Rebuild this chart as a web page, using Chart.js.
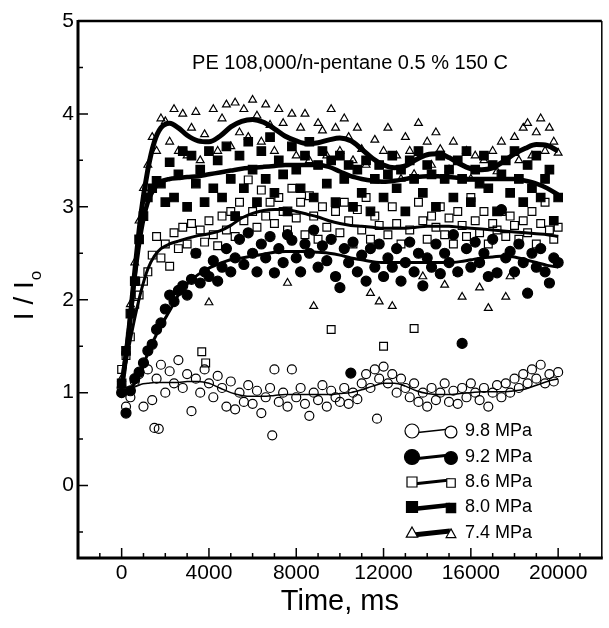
<!DOCTYPE html>
<html>
<head>
<meta charset="utf-8">
<script src="https://cdn.jsdelivr.net/npm/chart.js@4.4.0/dist/chart.umd.min.js"></script>
<style>
  html, body { margin: 0; padding: 0; background: #fff; }
  #wrap { width: 609px; height: 628px; }
</style>
</head>
<body>
<div id="wrap"><canvas id="chart" width="609" height="628"></canvas></div>
<script>
const FONT = '"Liberation Sans", Arial, Helvetica, sans-serif';

// tick labels
const xTicks = [0, 4000, 8000, 12000, 16000, 20000];
const yTicks = [0, 1, 2, 3, 4, 5];

// measured sampling times, ms
const times = [
  0,200,400,600,800,1000,1200,1400,1600,1800,
  2000,2200,2400,2600,2800,3000,3200,3400,3600,3800,
  4000,4200,4400,4600,4800,5000,5200,5400,5600,5800,
  6000,6200,6400,6600,6800,7000,7200,7400,7600,7800,
  8000,8200,8400,8600,8800,9000,9200,9400,9600,9800,
  10000,10200,10400,10600,10800,11000,11200,11400,11600,11800,
  12000,12200,12400,12600,12800,13000,13200,13400,13600,13800,
  14000,14200,14400,14600,14800,15000,15200,15400,15600,15800,
  16000,16200,16400,16600,16800,17000,17200,17400,17600,17800,
  18000,18200,18400,18600,18800,19000,19200,19400,19600,19800,
  20000
];

// I/I0 readings per pressure
const p74 = [
  1.15,1.45,1.95,2.4,2.85,3.2,3.45,3.75,3.6,3.95,
  3.92,3.7,4.05,3.6,4.0,3.55,3.85,4.02,3.5,3.78,
  1.97,4.05,3.6,3.95,4.1,3.65,4.12,3.8,4.05,3.75,
  4.15,3.98,3.7,4.1,3.88,3.6,4.05,3.9,2.18,4.0,
  3.55,3.85,4.0,3.5,1.93,3.9,3.82,3.55,4.05,3.85,
  3.6,3.95,3.75,3.5,3.85,3.62,3.45,2.07,3.72,1.98,
  3.6,3.85,1.93,3.55,3.3,3.75,3.6,3.35,3.9,2.25,
  3.7,3.45,3.8,3.62,2.16,3.4,3.7,2.29,2.03,3.6,
  3.3,3.55,2.13,3.5,1.91,3.6,3.38,3.7,2.03,2.25,
  3.75,3.5,3.85,3.9,3.55,3.8,3.95,3.6,3.85,3.7,
  3.58
];
const p80 = [
  1.1,1.45,1.85,2.2,2.65,2.9,3.1,3.2,3.28,3.25,
  3.05,3.48,3.1,3.35,3.6,3.0,3.55,3.25,3.4,3.05,
  3.6,3.2,3.5,3.1,3.65,3.3,2.9,3.55,3.2,3.7,
  3.4,3.05,3.6,3.3,3.75,3.15,3.5,3.35,2.95,3.65,
  3.4,3.2,3.55,3.7,3.1,3.45,3.6,3.25,3.5,3.05,
  3.55,3.3,3.45,3.0,3.4,3.15,3.5,2.95,3.3,3.45,
  3.1,3.35,3.55,3.2,3.4,2.95,3.5,3.3,3.6,3.15,
  3.45,3.35,3.0,3.55,3.3,3.4,3.1,3.5,3.3,3.6,
  3.05,3.4,3.25,3.55,3.2,3.45,2.95,3.35,3.5,3.15,
  3.6,3.3,3.05,3.45,3.2,3.55,3.1,3.3,3.4,2.85,
  3.1
];
const p86 = [
  1.25,1.4,1.6,1.95,2.05,2.2,2.3,2.48,2.68,2.45,
  2.6,2.36,2.72,2.55,2.78,2.6,2.82,2.5,2.75,2.62,
  2.85,2.7,2.58,2.9,2.75,2.95,2.68,3.05,2.85,3.29,
  2.95,2.78,3.18,2.9,3.05,2.82,3.1,2.95,2.75,3.2,
  2.88,3.05,2.7,3.12,2.9,2.65,3.0,2.78,1.68,2.95,
  2.72,3.05,2.85,2.6,2.97,2.75,3.1,2.65,2.9,2.8,
  1.5,2.7,3.0,2.82,2.6,2.95,2.75,1.69,3.05,2.85,
  2.65,2.9,2.78,3.0,2.7,2.88,2.6,2.95,2.8,2.68,
  3.1,2.85,2.72,2.95,2.6,2.82,2.75,2.95,2.68,2.9,
  2.8,2.65,2.85,2.72,2.95,2.6,2.82,3.05,2.75,2.65,
  2.78
];
const p92 = [
  1.0,0.78,1.02,1.15,1.22,1.32,1.45,1.52,1.68,1.75,
  1.9,2.05,1.98,2.1,2.15,2.05,2.22,2.5,2.18,2.3,
  2.25,2.42,2.2,2.35,2.55,2.3,2.45,2.65,2.38,2.72,
  2.5,2.3,2.6,2.45,2.68,2.29,2.55,2.4,2.7,2.64,
  2.45,2.3,2.6,2.5,2.75,2.35,2.58,2.42,2.65,2.25,
  2.13,2.55,2.4,2.62,2.3,2.48,2.2,2.55,2.35,2.6,
  2.25,2.45,2.35,2.55,2.2,2.4,2.62,2.3,2.5,2.15,
  2.45,2.35,2.6,2.28,2.5,2.4,2.7,2.3,1.53,2.55,
  2.35,2.62,2.4,2.5,2.25,2.65,2.29,2.97,2.45,2.52,
  2.3,2.6,2.4,2.07,2.5,2.35,2.55,2.3,2.18,2.45,
  2.4
];
const p98 = [
  1.05,0.85,0.95,1.12,1.2,0.85,1.25,0.92,1.15,1.3,
  1.0,1.23,1.1,1.35,1.05,1.2,0.8,1.15,1.0,1.25,
  1.1,0.95,1.18,1.05,0.85,1.12,0.82,1.0,0.9,1.08,
  0.88,1.02,0.78,0.95,1.05,1.25,0.9,1.0,0.85,1.25,
  0.95,1.05,0.88,0.75,1.0,0.92,1.08,0.85,1.02,0.95,
  0.9,1.05,0.88,1.0,0.93,1.1,1.2,1.05,1.25,1.15,
  1.28,1.1,1.2,1.0,1.15,1.05,0.95,1.1,0.9,1.0,
  0.85,1.05,0.92,1.0,1.1,0.9,1.02,0.88,1.05,0.95,
  1.1,1.0,0.92,1.05,0.85,1.0,1.08,0.95,1.1,1.0,
  1.15,1.05,1.2,1.1,1.25,1.15,1.3,1.1,1.2,1.12,
  1.22
];

// stray readings off the regular grid [time, I/I0]
const extra98 = [[1500,0.62],[1700,0.61],[6900,0.54],[11700,0.72]];
const extra92 = [[10500,1.21]];
const extra86 = [[3670,1.44],[3850,1.32]];

// smoothed fits
const fitTimes = [0,300,600,900,1200,1500,1800,2200,2600,3000,
  3500,4000,4500,5000,5500,6000,6500,7000,7500,8000,
  8500,9000,9500,10000,10500,11000,11500,12000,12500,13000,
  13500,14000,14500,15000,15500,16000,16500,17000,17500,18000,
  18500,19000,19500,20000];
const fit74 = [1.05,1.6,2.3,2.95,3.4,3.7,3.85,3.9,3.85,3.77,
  3.71,3.7,3.76,3.86,3.92,3.94,3.91,3.84,3.76,3.71,
  3.68,3.69,3.72,3.74,3.71,3.62,3.52,3.45,3.42,3.44,
  3.51,3.56,3.57,3.53,3.46,3.41,3.4,3.42,3.49,3.57,
  3.63,3.67,3.66,3.6];
const fit80 = [1.05,1.6,2.25,2.75,3.05,3.2,3.27,3.3,3.31,3.32,
  3.33,3.35,3.37,3.39,3.41,3.42,3.43,3.44,3.45,3.45,
  3.45,3.45,3.43,3.38,3.33,3.3,3.28,3.27,3.28,3.3,
  3.32,3.33,3.33,3.32,3.31,3.3,3.3,3.3,3.3,3.3,
  3.28,3.25,3.2,3.13];
const fit86 = [1.1,1.45,1.8,2.1,2.33,2.47,2.55,2.6,2.63,2.66,
  2.69,2.71,2.74,2.8,2.88,2.93,2.96,2.97,2.97,2.95,
  2.92,2.89,2.85,2.82,2.8,2.79,2.78,2.77,2.77,2.77,
  2.78,2.79,2.79,2.79,2.78,2.77,2.76,2.75,2.74,2.73,
  2.72,2.71,2.7,2.68];
const fit92 = [1.0,1.02,1.1,1.25,1.42,1.58,1.72,1.88,2.05,2.17,
  2.27,2.34,2.39,2.43,2.45,2.47,2.49,2.51,2.52,2.52,
  2.52,2.51,2.5,2.48,2.45,2.43,2.41,2.4,2.4,2.4,
  2.4,2.4,2.4,2.4,2.41,2.43,2.45,2.46,2.47,2.46,
  2.43,2.4,2.37,2.35];
const fit98 = [1.0,1.03,1.06,1.09,1.1,1.11,1.11,1.11,1.11,1.12,
  1.12,1.1,1.05,1.0,0.97,0.96,0.96,0.97,0.98,0.98,
  0.98,0.98,0.98,0.99,1.0,1.03,1.07,1.1,1.1,1.07,
  1.02,0.99,0.98,0.98,0.99,1.0,1.01,1.01,1.01,1.02,
  1.04,1.08,1.12,1.15];

const labels = ['9.8 MPa', '9.2 MPa', '8.6 MPa', '8.0 MPa', '7.4 MPa'];

// marker / line look per series (same order as labels)
const looks = [
  { shape: 'circle',   filled: false, r: 4.5, line: 1.5, legR: 7 },
  { shape: 'circle',   filled: true,  r: 5,   line: 3,   legR: 7.5 },
  { shape: 'rect',     filled: false, r: 5.5, line: 3,   legR: 5 },
  { shape: 'rect',     filled: true,  r: 6,   line: 4.5, legR: 5.5 },
  { shape: 'triangle', filled: false, r: 4.5, line: 5,   legR: 6 }
];

const readings = [p98, p92, p86, p80, p74];
const extras = [extra98, extra92, extra86, [], []];
const fits = [fit98, fit92, fit86, fit80, fit74];

function pts(xs, ys) { return xs.map((t, i) => ({ x: t, y: ys[i] })); }

const datasets = [];
// fitted curves first so they are drawn on top
fits.forEach((f, i) => {
  datasets.push({
    label: labels[i] + ' fit',
    data: pts(fitTimes, f),
    showLine: true,
    borderColor: '#000',
    borderWidth: looks[i].line,
    pointRadius: 0,
    cubicInterpolationMode: 'monotone',
    fill: false
  });
});
readings.forEach((ys, i) => {
  const lk = looks[i];
  datasets.push({
    label: labels[i],
    data: pts(times, ys).concat(extras[i].map(p => ({ x: p[0], y: p[1] }))),
    showLine: false,
    pointStyle: lk.shape,
    pointRadius: lk.r,
    pointBorderWidth: 1.2,
    pointBorderColor: '#000',
    pointBackgroundColor: lk.filled ? '#000' : 'rgba(0,0,0,0)'
  });
});

function drawMark(ctx, shape, filled, x, y, r) {
  ctx.beginPath();
  if (shape === 'circle') {
    ctx.arc(x, y, r, 0, Math.PI * 2);
  } else if (shape === 'rect') {
    ctx.rect(x - r, y - r, 2 * r, 2 * r);
  } else {
    ctx.moveTo(x, y - r);
    ctx.lineTo(x + r * 0.95, y + r * 0.7);
    ctx.lineTo(x - r * 0.95, y + r * 0.7);
    ctx.closePath();
  }
  ctx.fillStyle = filled ? '#000' : '#fff';
  ctx.fill();
  ctx.lineWidth = 1.2;
  ctx.strokeStyle = '#000';
  ctx.stroke();
}

// box, inward ticks, axis titles, header text
const framePlugin = {
  id: 'frame',
  afterDraw(chart) {
    const { ctx, chartArea: a, scales: { x, y } } = chart;
    ctx.save();
    ctx.strokeStyle = '#000';
    ctx.lineCap = 'butt';
    ctx.lineWidth = 1.5;
    ctx.beginPath();
    for (let v = -1000; v <= 21000; v += 1000) {
      const px = x.getPixelForValue(v);
      const len = v % 4000 === 0 ? 10 : 5;
      ctx.moveTo(px, a.bottom); ctx.lineTo(px, a.bottom - len);
    }
    for (let v = -0.5; v <= 5; v += 0.5) {
      const py = y.getPixelForValue(v);
      const len = Math.abs(v % 1) < 1e-6 ? 10 : 5;
      ctx.moveTo(a.left, py); ctx.lineTo(a.left + len, py);
    }
    ctx.stroke();

    ctx.lineWidth = 1.5;
    ctx.beginPath();
    ctx.moveTo(a.right, a.top); ctx.lineTo(a.right, a.bottom);
    ctx.stroke();
    ctx.lineWidth = 2.5;
    ctx.beginPath();
    ctx.moveTo(a.left, a.top); ctx.lineTo(a.right, a.top);
    ctx.stroke();
    ctx.lineWidth = 3;
    ctx.beginPath();
    ctx.moveTo(a.left, a.top - 1); ctx.lineTo(a.left, a.bottom);
    ctx.lineTo(a.right + 1, a.bottom);
    ctx.stroke();

    ctx.fillStyle = '#000';
    ctx.textAlign = 'center';
    ctx.textBaseline = 'alphabetic';
    ctx.font = '20px ' + FONT;
    ctx.fillText('PE 108,000/n-pentane 0.5 % 150 C', 350, 69);

    ctx.font = '29px ' + FONT;
    ctx.fillText('Time, ms', (a.left + a.right) / 2, 610);

    // I / I0, rotated
    ctx.translate(33, 296);
    ctx.rotate(-Math.PI / 2);
    ctx.textAlign = 'left';
    ctx.font = '28px ' + FONT;
    const main = 'I / I';
    const w1 = ctx.measureText(main).width;
    ctx.font = '17px ' + FONT;
    const w2 = ctx.measureText('o').width;
    const x0 = -(w1 + w2) / 2;
    ctx.font = '28px ' + FONT;
    ctx.fillText(main, x0, 0);
    ctx.font = '17px ' + FONT;
    ctx.fillText('o', x0 + w1 + 1, 8);
    ctx.restore();
  }
};

const pairLegend = {
  id: 'pairLegend',
  afterDraw(chart) {
    const ctx = chart.ctx;
    const rows = [431, 457, 482, 507, 533];
    ctx.save();
    labels.forEach((lab, i) => {
      const lk = looks[i];
      const yy = rows[i];
      ctx.strokeStyle = '#000';
      ctx.lineWidth = lk.line;
      ctx.beginPath();
      ctx.moveTo(413, yy + 2);
      ctx.lineTo(450, yy - 2);
      ctx.stroke();
      drawMark(ctx, lk.shape, lk.filled, 412, yy, lk.legR);
      drawMark(ctx, lk.shape, lk.filled, 451, yy + 1, lk.legR * 0.85);
      ctx.fillStyle = '#000';
      ctx.font = '18px ' + FONT;
      ctx.textAlign = 'left';
      ctx.textBaseline = 'middle';
      ctx.fillText(lab, 465, yy);
    });
    ctx.restore();
  }
};

new Chart(document.getElementById('chart'), {
  type: 'scatter',
  data: { datasets },
  options: {
    responsive: false,
    animation: false,
    devicePixelRatio: 1,
    layout: { padding: { left: 0, right: 1, top: 21, bottom: 0 } },
    plugins: { legend: { display: false }, tooltip: { enabled: false } },
    scales: {
      x: {
        type: 'linear',
        min: -2000,
        max: 22000,
        afterBuildTicks: s => { s.ticks = xTicks.map(v => ({ value: v })); },
        afterFit: s => { s.height = 70; },
        grid: { display: false, drawTicks: false },
        border: { display: false },
        ticks: {
          maxRotation: 0,
          autoSkip: false,
          padding: 3,
          color: '#000',
          font: { family: FONT, size: 21 },
          callback: v => String(v)
        }
      },
      y: {
        type: 'linear',
        min: -0.78,
        max: 5,
        afterBuildTicks: s => { s.ticks = yTicks.map(v => ({ value: v })); },
        afterFit: s => { s.width = 78; },
        grid: { display: false, drawTicks: false },
        border: { display: false },
        ticks: {
          padding: 4,
          color: '#000',
          font: { family: FONT, size: 21 },
          callback: v => String(v)
        }
      }
    }
  },
  plugins: [framePlugin, pairLegend]
});
</script>
</body>
</html>
